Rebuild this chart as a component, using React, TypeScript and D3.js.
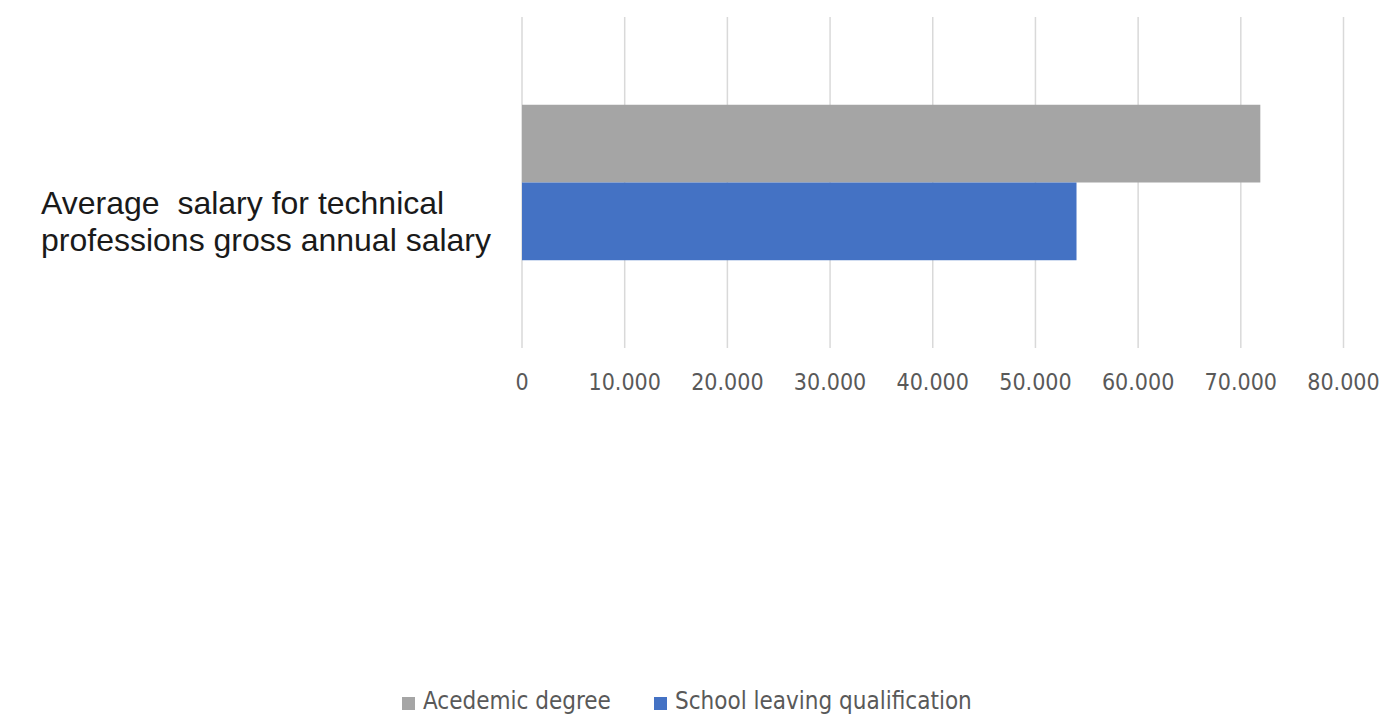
import React from "react";
import * as d3 from "d3";

const categories = ["Average  salary for technical|professions gross annual salary"];
const seriesNames = ["Acedemic degree", "School leaving qualification"];
const seriesColors = ["#a5a5a5", "#4472c4"];
const academicValues = [71900];
const schoolValues = [54000];
const xTicks = [0, 10000, 20000, 30000, 40000, 50000, 60000, 70000, 80000];

export default function App() {
  const W = 1383, H = 714;
  const plot = { left: 522, right: 1343.5, top: 17, bottom: 348 };
  const x = d3.scaleLinear().domain([0, 80000]).range([plot.left, plot.right]);
  const y = d3.scaleBand().domain(categories).range([plot.top + 1, plot.bottom - 1]).paddingInner(0).paddingOuter(0.558);
  const inner = d3.scaleBand().domain(seriesNames).range([0, y.bandwidth()]);
  const series = [academicValues, schoolValues];
  const fmt = (v: number) => v === 0 ? "0" : d3.format(",")(v).replace(/,/g, ".");
  const tickFont = "'Liberation Sans Narrow', 'DejaVu Sans Condensed', sans-serif";
  const legendX = [402, 654];

  return (
    <svg width={W} height={H} style={{ position: "absolute", left: 0, top: 0, background: "#fff" }}>
      {xTicks.map((t) => (
        <line key={t} x1={x(t)} x2={x(t)} y1={plot.top} y2={plot.bottom} stroke="#d9d9d9" strokeWidth={1.5} />
      ))}
      {categories.map((c, ci) => (
        <g key={c}>
          {series.map((vals, si) => (
            <rect key={si} x={x(0)} y={(y(c) as number) + (inner(seriesNames[si]) as number)}
              width={x(vals[ci]) - x(0)} height={inner.bandwidth()} fill={seriesColors[si]} />
          ))}
          <text x={41} fontFamily="'Liberation Sans', Arial, sans-serif" fontSize={32} fill="#1a1a1a" style={{ whiteSpace: "pre" }}>
            {c.split("|").map((line, li) => (
              <tspan key={li} x={41} y={(y(c) as number) + y.bandwidth() / 2 + 68 + (li - 1) * 37}>{line}</tspan>
            ))}
          </text>
        </g>
      ))}
      {xTicks.map((t) => (
        <text key={t} x={x(t)} y={390} textAnchor="middle" fontFamily={tickFont} fontSize={23} fill="#595959">{fmt(t)}</text>
      ))}
      <g fontFamily={tickFont} fontSize={24} fill="#595959">
        {seriesNames.map((n, i) => (
          <g key={n}>
            <rect x={legendX[i]} y={697} width={13} height={13} fill={seriesColors[i]} />
            <text x={legendX[i] + 21} y={709}>{n}</text>
          </g>
        ))}
      </g>
    </svg>
  );
}
